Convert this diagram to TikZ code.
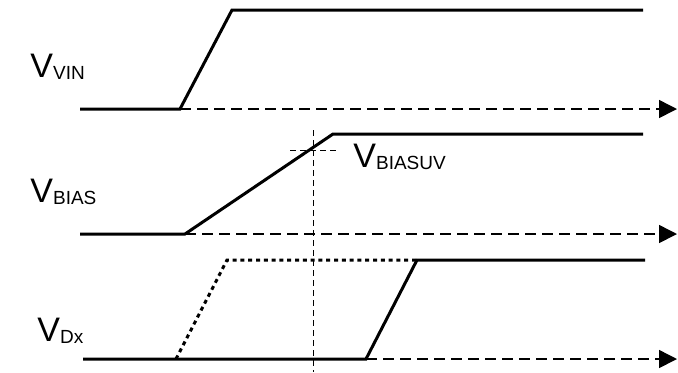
\documentclass[tikz,border=0pt]{standalone}
\usepackage{fontspec}
\setmainfont{Liberation Sans}
\usetikzlibrary{arrows.meta}
\newcommand{\signame}[1]{V{\fontsize{9.5}{11}\selectfont\raisebox{-1pt}{#1}}}
\begin{document}
\begin{tikzpicture}[x=0.5pt,y=-0.5pt,
    signal/.style={line width=1.5pt, line join=miter},
    early/.style={line width=1.5pt, dash pattern=on 2pt off 1.9pt},
    timeaxis/.style={line width=0.75pt, dash pattern=on 5.5pt off 3pt,
        -{Triangle[length=9pt,width=9pt]}},
    guide/.style={line width=0.4pt, dash pattern=on 3pt off 2pt},
    siglabel/.style={font=\fontsize{17}{20}\selectfont, anchor=base west, inner sep=0pt}]
            \useasboundingbox (0,0) rectangle (678,372);

            % Signal VIN
            \coordinate (A1) at (80,109);
            \coordinate (A2) at (180,109);
            \coordinate (A3) at (232,10);
            \coordinate (A4) at (643,10);
            \coordinate (AE) at (677,109);

            % Signal BIAS
            \coordinate (B1) at (80,234);
            \coordinate (B2) at (185,234);
            \coordinate (B3) at (333,134);
            \coordinate (B4) at (643,134);
            \coordinate (BE) at (677,234);

            % Signal Dx (et sa montee anticipee en pointille)
            \coordinate (D1) at (83,359);
            \coordinate (D2) at (366,359);
            \coordinate (D3) at (417,260);
            \coordinate (D4) at (645,260);
            \coordinate (DE) at (677,359);
            \coordinate (E1) at (176,359);
            \coordinate (E2) at (227,260);

            % Seuil BIASUV
            \coordinate (U1) at (313,130);
            \coordinate (U2) at (313,372);
            \coordinate (U3) at (290,150.5);
            \coordinate (U4) at (337,150.5);

            % Axes des temps
            \draw[timeaxis] (A2) -- (AE);
            \draw[timeaxis] (B2) -- (BE);
            \draw[timeaxis] (D2) -- (DE);

            % Traces
            \draw[signal] (A1) -- (A2) -- (A3) -- (A4);
            \draw[signal] (B1) -- (B2) -- (B3) -- (B4);
            \draw[signal] (D1) -- (D2) -- (D3) -- (D4);
            \draw[early] (E1) -- (E2) -- (D3);
            \draw[guide] (U1) -- (U2);
            \draw[guide] (U3) -- (U4);

            % Etiquettes
            \node[siglabel] (lvin) at (30,77) {\signame{VIN}};
            \node[siglabel] (lbias) at (30,202) {\signame{BIAS}};
            \node[siglabel] (ldx) at (37,341) {\signame{Dx}};
            \node[siglabel] (luv) at (353,167) {\signame{BIASUV}};
        \end{tikzpicture}
\end{document}
